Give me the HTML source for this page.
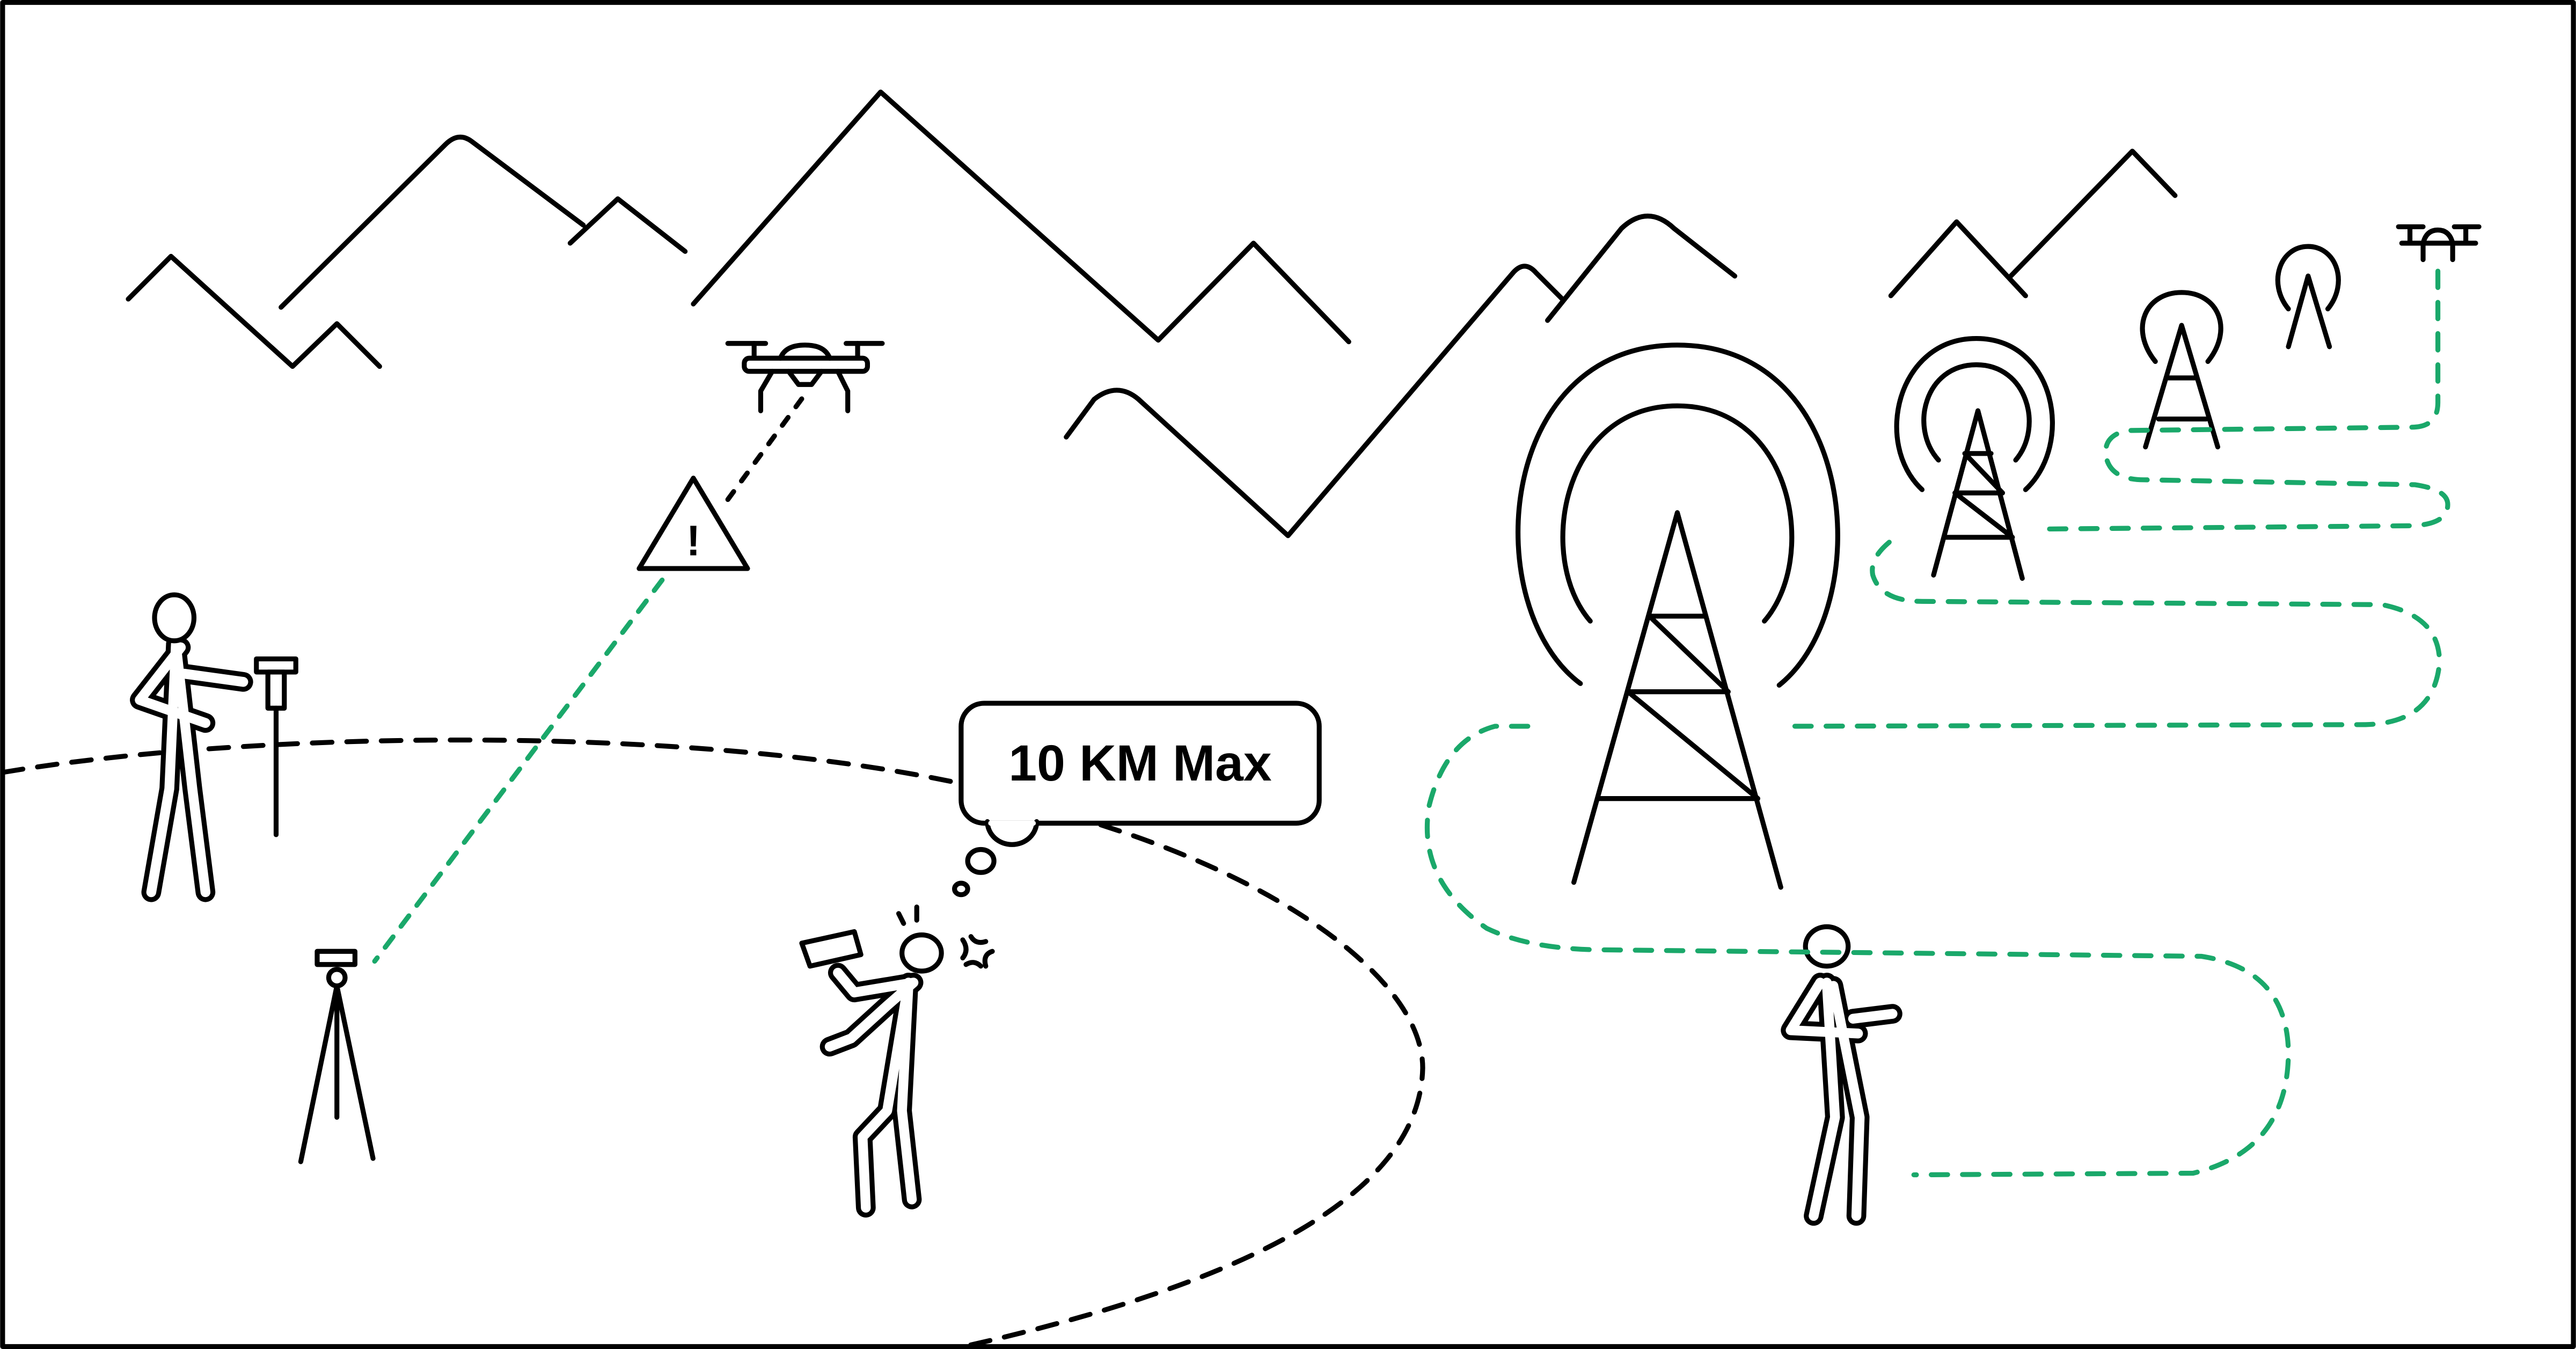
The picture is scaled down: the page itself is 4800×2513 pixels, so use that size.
<!DOCTYPE html>
<html><head><meta charset="utf-8"><style>
html,body{margin:0;padding:0;background:#fff}
svg{display:block}
</style></head><body>
<svg width="4800" height="2513" viewBox="0 0 1568 821" xmlns="http://www.w3.org/2000/svg" fill="none" stroke-linecap="round" stroke-linejoin="round">
<rect x="1.5" y="1.5" width="1565" height="818" stroke="#000" stroke-width="3" fill="#fff"/>
<g stroke="#000" stroke-width="3">
<polyline points="78,182 104,156 178,223 205,197 231,223"/>
<path d="M171,187 L271,88 Q279,80 287,86 L355,137"/>
<polyline points="347,148 376,121 417,153"/>
<polyline points="422,185 536,56 705,207 763,148 821,208"/>
<path d="M649,266 L666,243 Q680,232 693,243 L784,326 L921,166 Q928,158 935,166 L951,182"/>
<path d="M942,195 L987,139 Q1003,124 1019,139 L1056,168"/>
<polyline points="1151,180 1191,135 1233,180"/>
<polyline points="1224,168 1298,92 1324,119"/>
</g>
<g stroke="#000" stroke-width="3">
<line x1="443" y1="209" x2="466" y2="209"/><line x1="515" y1="209" x2="537" y2="209"/>
<line x1="459" y1="209" x2="459" y2="222"/><line x1="522" y1="209" x2="522" y2="222"/>
<rect x="453" y="218" width="75" height="8" rx="3" fill="#fff"/>
<path d="M475,218 Q478,210 490,210 Q502,210 505,218"/>
<path d="M470,226 L463,238 L463,250 M510,226 L516,238 L516,250"/>
<path d="M480,226 L486,234 L494,234 L500,226"/>
</g>
<path d="M422,291 L455,346 L389,346 Z" stroke="#000" stroke-width="3" fill="#fff"/>
<text x="422" y="338" font-family="Liberation Sans, sans-serif" font-weight="bold" font-size="26" fill="#000" text-anchor="middle">!</text>
<line x1="443" y1="304" x2="490" y2="240" stroke="#000" stroke-width="3" stroke-dasharray="6,8"/>
<line x1="403" y1="353" x2="228" y2="585" stroke="#1aa86a" stroke-width="3" stroke-dasharray="8,8"/>
<path d="M2,470 C150,445 420,440 590,478 M670,502 C790,540 866,600 866,650 C864,740 720,790 580,821" stroke="#000" stroke-width="3" stroke-dasharray="12,9"/>
<g stroke="#000" stroke-width="3" fill="#fff">
<rect x="585" y="428" width="218" height="73" rx="14"/>
<path d="M601,500 A15,14 0 0 0 631,500"/>
<ellipse cx="597" cy="524" rx="8" ry="7"/>
<ellipse cx="585" cy="541" rx="4" ry="3.5"/>
</g>
<line x1="603" y1="501" x2="629" y2="501" stroke="#fff" stroke-width="3"/>
<text x="694" y="475" font-family="Liberation Sans, sans-serif" font-weight="bold" font-size="31" fill="#000" text-anchor="middle">10 KM Max</text>
<g stroke="#000" stroke-width="3">
<rect x="193" y="579" width="23" height="8" fill="#fff"/>
<circle cx="205" cy="595" r="5"/>
<path d="M205,600 L183,707 M205,600 L227,705 M205,600 L205,680"/>
</g>
<defs>
<g id="f1">
<path d="M107,392 L103,480 L92,543 M107,392 L117,480 L125,543"/>
<path d="M110,394 L85,426 L125,440 M112,410 L148,415"/>
</g>
<g id="f2">
<path d="M553,598 L549,676 L555,730 M553,598 L540,676 L525,692 L527,735"/>
<path d="M556,598 L540,612 L518,632 L505,637 M556,598 L520,604 L510,592"/>
</g>
<g id="f3">
<path d="M1112,598 L1117,680 L1104,740 M1116,600 L1132,680 L1130,740"/>
<path d="M1108,598 L1090,627 L1131,629 M1128,620 L1152,617"/>
</g>
</defs>
<g stroke="#000" stroke-width="12"><use href="#f1"/><use href="#f2"/><use href="#f3"/></g>
<g stroke="#fff" stroke-width="6"><use href="#f1"/><use href="#f2"/><use href="#f3"/></g>
<g stroke="#000" stroke-width="3" fill="#fff">
<ellipse cx="106" cy="376" rx="12" ry="14"/>
<ellipse cx="561" cy="580" rx="12" ry="11"/>
<ellipse cx="1112" cy="576" rx="13" ry="12"/>
<path d="M488,574 L520,567 L524,581 L493,588 Z"/>
<rect x="156" y="401" width="24" height="8"/>
<rect x="163" y="409" width="10" height="22"/>
</g>
<g stroke="#000" stroke-width="3">
<line x1="168" y1="431" x2="168" y2="508"/>
<path d="M547,556 L550,562 M558,552 L558,560 M586,572 Q590,578 586,583 M591,570 Q594,575 600,573 M588,587 Q593,584 597,588 M600,588 Q598,581 604,579"/>
</g>
<g stroke="#000" stroke-width="3">
<path d="M1021,312 L958,537 M1021,312 L1084,540"/>
<path d="M1004,375 L1038,375 M991,421 L1052,421 M973,486 L1070,486 M1004,375 L1052,421 M991,421 L1070,486"/>
<path d="M962,416 C900,370 910,210 1021,210 C1132,210 1142,370 1083,417"/>
<path d="M968,378 C935,340 950,247 1021,247 C1092,247 1107,340 1074,378"/>
<path d="M1204,250 L1177,350 M1204,250 L1231,352 M1196,276 L1212,276 M1190,300 L1219,300 M1184,327 L1225,327 M1196,276 L1219,300 M1190,300 L1225,327"/>
<path d="M1170,298 C1140,270 1155,206 1203,206 C1251,206 1263,270 1233,298"/>
<path d="M1180,280 C1162,260 1172,222 1203,222 C1234,222 1244,260 1227,280"/>
<path d="M1328,198 L1306,272 M1328,198 L1350,272 M1320,230 L1337,230 M1314,255 L1343,255"/>
<path d="M1312,220 C1296,200 1306,178 1328,178 C1350,178 1360,200 1344,220"/>
<path d="M1405,168 L1393,211 M1405,168 L1418,211"/>
<path d="M1393,188 C1380,172 1388,150 1405,150 C1422,150 1430,172 1417,188"/>
<path d="M1460,138 L1475,138 M1494,138 L1509,138 M1467,138 L1467,148 M1501,138 L1501,148 M1462,148 L1507,148 M1475,148 Q1477,140 1484,140 Q1491,140 1493,148 M1475,148 L1475,158 M1493,148 L1493,158"/>
</g>
<path d="M1484,165 L1484,245 Q1484,260 1468,260 L1295,262 Q1280,265 1282,278 Q1285,292 1305,292 L1470,295 Q1490,298 1490,307 Q1490,320 1465,320 L1240,322 M1150,330 Q1138,340 1140,350 Q1145,366 1170,366 L1450,368 Q1485,375 1485,403 Q1482,440 1440,441 L1090,442 M930,442 L910,442 Q880,450 870,490 Q862,535 905,565 Q930,577 970,578 L1340,582 Q1392,590 1393,640 Q1393,700 1335,714 L1165,715" stroke="#1aa86a" stroke-width="3" stroke-dasharray="10,9"/>
</svg>
</body></html>
